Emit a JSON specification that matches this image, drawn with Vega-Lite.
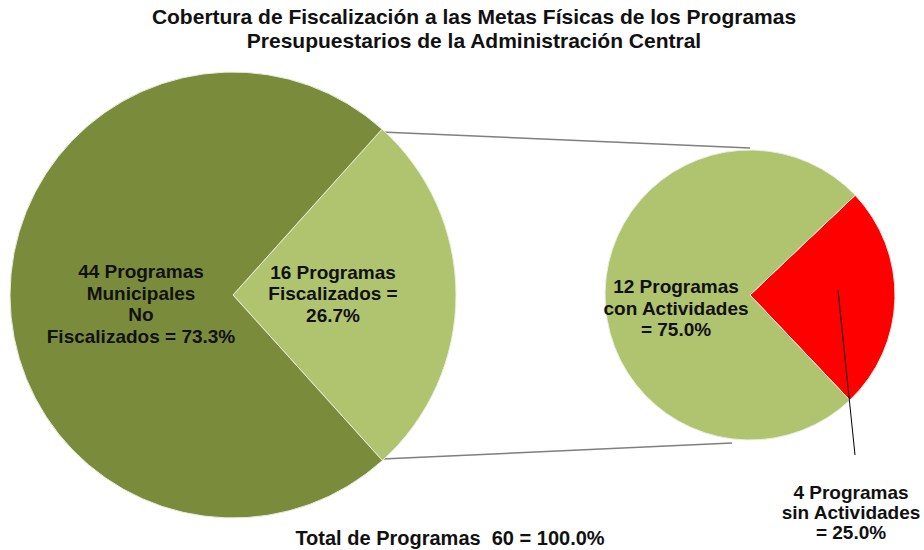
{
  "$schema": "https://vega.github.io/schema/vega-lite/v6.json",
  "width": 924,
  "height": 550,
  "autosize": "none",
  "padding": 0,
  "background": "white",
  "config": {
    "view": {"stroke": null},
    "font": "Liberation Sans",
    "text": {"font": "Liberation Sans", "fontWeight": "bold", "fontSize": 19, "lineHeight": 21.5, "color": "#111111", "align": "center", "baseline": "middle"}
  },
  "datasets": {
    "total": [
      {"categoria": "Fiscalizados", "programas": 16, "orden": 1, "etiqueta": ["16 Programas", "Fiscalizados =", "26.7%"]},
      {"categoria": "No Fiscalizados", "programas": 44, "orden": 2, "etiqueta": ["44 Programas", "Municipales", "No", "Fiscalizados = 73.3%"]}
    ],
    "desglose": [
      {"categoria": "Sin actividades", "programas": 4, "orden": 1, "etiqueta": ["4 Programas", "sin Actividades", "= 25.0%"]},
      {"categoria": "Con actividades", "programas": 12, "orden": 2, "etiqueta": ["12 Programas", "con Actividades", "= 75.0%"]}
    ],
    "textos": [
      {"tipo": "titulo", "texto": ["Cobertura de Fiscalización a las Metas Físicas de los Programas", "Presupuestarios de la Administración Central"]},
      {"tipo": "total", "texto": "Total de Programas\u00a0\u00a060 = 100.0%"}
    ]
  },
  "layer": [
    {
      "data": {"values": [{}]},
      "mark": {"type": "rule", "color": "#7f7f7f", "strokeWidth": 1.5},
      "encoding": {
        "x": {"datum": 381, "type": "quantitative", "scale": {"domain": [0, 924], "nice": false, "zero": false}, "axis": null},
        "y": {"datum": 132, "type": "quantitative", "scale": {"domain": [0, 550], "nice": false, "zero": false, "reverse": true}, "axis": null},
        "x2": {"datum": 750},
        "y2": {"datum": 148}
      }
    },
    {
      "data": {"values": [{}]},
      "mark": {"type": "rule", "color": "#7f7f7f", "strokeWidth": 1.5},
      "encoding": {
        "x": {"datum": 382, "type": "quantitative", "scale": {"domain": [0, 924], "nice": false, "zero": false}, "axis": null},
        "y": {"datum": 459, "type": "quantitative", "scale": {"domain": [0, 550], "nice": false, "zero": false, "reverse": true}, "axis": null},
        "x2": {"datum": 732},
        "y2": {"datum": 443}
      }
    },
    {
      "data": {"name": "total"},
      "encoding": {
        "x": {"datum": 233, "type": "quantitative", "scale": {"domain": [0, 924], "nice": false, "zero": false}, "axis": null},
        "y": {"datum": 295, "type": "quantitative", "scale": {"domain": [0, 550], "nice": false, "zero": false, "reverse": true}, "axis": null},
        "theta": {"field": "programas", "type": "quantitative", "stack": true, "scale": {"range": [0.732, 7.0152]}},
        "order": {"field": "orden", "type": "quantitative"}
      },
      "layer": [
        {
          "mark": {"type": "arc", "outerRadius": 223, "stroke": "#e9eedd", "strokeWidth": 1},
          "encoding": {
            "color": {"field": "categoria", "type": "nominal", "legend": null,
              "scale": {"domain": ["Fiscalizados", "No Fiscalizados", "Con actividades", "Sin actividades"], "range": ["#B0C470", "#7A8C3B", "#B0C470", "#FF0000"]}}
          }
        },
        {
          "mark": {"type": "text", "radius": 100, "dy": -22},
          "encoding": {
            "text": {"condition": {"test": "datum.categoria !== 'Fiscalizados'", "value": ""}, "field": "etiqueta"}
          }
        },
        {
          "mark": {"type": "text", "radius": 92, "dy": -23},
          "encoding": {
            "text": {"condition": {"test": "datum.categoria !== 'No Fiscalizados'", "value": ""}, "field": "etiqueta"}
          }
        }
      ]
    },
    {
      "data": {"name": "desglose"},
      "encoding": {
        "x": {"datum": 750, "type": "quantitative", "scale": {"domain": [0, 924], "nice": false, "zero": false}, "axis": null},
        "y": {"datum": 295, "type": "quantitative", "scale": {"domain": [0, 550], "nice": false, "zero": false, "reverse": true}, "axis": null},
        "theta": {"field": "programas", "type": "quantitative", "stack": true, "scale": {"range": [0.8116, 7.0948]}},
        "order": {"field": "orden", "type": "quantitative"}
      },
      "layer": [
        {
          "mark": {"type": "arc", "outerRadius": 145, "stroke": "#e9eedd", "strokeWidth": 1},
          "encoding": {
            "color": {"field": "categoria", "type": "nominal", "legend": null,
              "scale": {"domain": ["Fiscalizados", "No Fiscalizados", "Con actividades", "Sin actividades"], "range": ["#B0C470", "#7A8C3B", "#B0C470", "#FF0000"]}}
          }
        },
        {
          "mark": {"type": "text", "radius": 74, "dy": -6},
          "encoding": {
            "text": {"condition": {"test": "datum.categoria !== 'Con actividades'", "value": ""}, "field": "etiqueta"}
          }
        }
      ]
    },
    {
      "data": {"values": [{}]},
      "mark": {"type": "rule", "color": "#000000", "strokeWidth": 1},
      "encoding": {
        "x": {"datum": 838, "type": "quantitative", "scale": {"domain": [0, 924], "nice": false, "zero": false}, "axis": null},
        "y": {"datum": 290, "type": "quantitative", "scale": {"domain": [0, 550], "nice": false, "zero": false, "reverse": true}, "axis": null},
        "x2": {"datum": 855},
        "y2": {"datum": 455}
      }
    },
    {
      "data": {"name": "desglose"},
      "transform": [{"filter": "datum.categoria === 'Sin actividades'"}],
      "mark": {"type": "text", "lineHeight": 20},
      "encoding": {
        "x": {"datum": 851, "type": "quantitative", "scale": {"domain": [0, 924], "nice": false, "zero": false}, "axis": null},
        "y": {"datum": 493, "type": "quantitative", "scale": {"domain": [0, 550], "nice": false, "zero": false, "reverse": true}, "axis": null},
        "text": {"field": "etiqueta"}
      }
    },
    {
      "data": {"name": "textos"},
      "transform": [{"filter": "datum.tipo === 'titulo'"}],
      "mark": {"type": "text", "lineHeight": 24, "fontSize": 21},
      "encoding": {
        "x": {"datum": 474, "type": "quantitative", "scale": {"domain": [0, 924], "nice": false, "zero": false}, "axis": null},
        "y": {"datum": 18, "type": "quantitative", "scale": {"domain": [0, 550], "nice": false, "zero": false, "reverse": true}, "axis": null},
        "text": {"field": "texto"}
      }
    },
    {
      "data": {"name": "textos"},
      "transform": [{"filter": "datum.tipo === 'total'"}],
      "mark": {"type": "text", "fontSize": 20},
      "encoding": {
        "x": {"datum": 450, "type": "quantitative", "scale": {"domain": [0, 924], "nice": false, "zero": false}, "axis": null},
        "y": {"datum": 539, "type": "quantitative", "scale": {"domain": [0, 550], "nice": false, "zero": false, "reverse": true}, "axis": null},
        "text": {"field": "texto"}
      }
    }
  ],
  "resolve": {"scale": {"theta": "independent"}}
}
